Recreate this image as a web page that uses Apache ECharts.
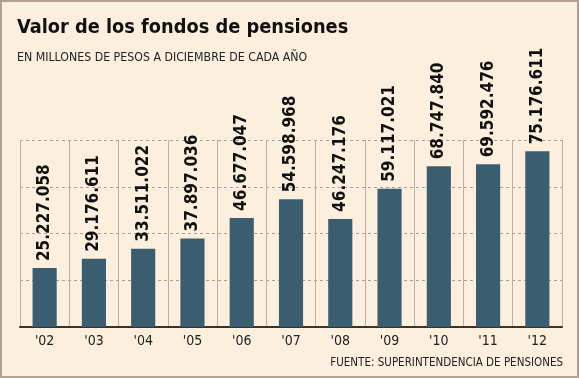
<!DOCTYPE html>
<html>
<head>
<meta charset="utf-8">
<script src="https://cdn.jsdelivr.net/npm/echarts@6/dist/echarts.min.js"></script>
<style>html,body{margin:0;padding:0;background:#FCEFDE;}#c{width:579px;height:378px;}</style>
</head>
<body>
<div id="c"></div>
<script>
const categories = ["'02","'03","'04","'05","'06","'07","'08","'09","'10","'11","'12"];
const values = [25227.058, 29176.611, 33511.022, 37897.036, 46677.047, 54598.968, 46247.176, 59117.021, 68747.840, 69592.476, 75176.611];
const labels = ["25.227.058","29.176.611","33.511.022","37.897.036","46.677.047","54.598.968","46.247.176","59.117.021","68.747.840","69.592.476","75.176.611"];
const titleText = "Valor de los fondos de pensiones";
const subtitleText = "EN MILLONES DE PESOS A DICIEMBRE DE CADA AÑO";
const sourceText = "FUENTE: SUPERINTENDENCIA DE PENSIONES";

const FONT = "'DejaVu Sans Condensed', sans-serif";
const chart = echarts.init(document.getElementById('c'), null, {renderer: 'canvas'});
chart.setOption({
  backgroundColor: '#FCEFDE',
  animation: false,
  title: [
    {text: titleText, left: 12, top: 13, textStyle: {fontFamily: FONT, fontWeight: 'bold', fontSize: 19.8, color: '#111'}},
    {text: subtitleText, left: 12, top: 47, textStyle: {fontFamily: FONT, fontWeight: 'normal', fontSize: 12.25, color: '#222'}},
    {text: sourceText, right: 11, top: 352, textStyle: {fontFamily: FONT, fontWeight: 'normal', fontSize: 11.5, color: '#222'}}
  ],
  graphic: [{
    type: 'rect', shape: {x: 1, y: 1, width: 577, height: 376},
    style: {fill: 'none', stroke: '#B4A090', lineWidth: 2}, silent: true, z: 100
  }],
  grid: {left: 20, right: 17, top: 140, bottom: 51},
  xAxis: {
    type: 'category', data: categories,
    axisLine: {show: true, lineStyle: {color: '#3A322C', width: 2}},
    axisTick: {show: false},
    splitLine: {show: true, lineStyle: {color: '#B8B0A8', width: 1}},
    axisLabel: {fontFamily: FONT, fontSize: 14, color: '#222', margin: 7}
  },
  yAxis: {
    type: 'value', min: 0, max: 80000, interval: 20000,
    axisLabel: {show: false}, axisLine: {show: false}, axisTick: {show: false},
    splitLine: {show: true, lineStyle: {color: '#A8A098', type: [3, 3], width: 1}}
  },
  series: [{
    type: 'bar', data: values, barWidth: '49%',
    itemStyle: {color: '#3A5E70'},
    label: {
      show: true, position: 'top', rotate: 90, align: 'left', verticalAlign: 'middle', distance: 7,
      fontFamily: FONT, fontWeight: 'bold', fontSize: 17, color: '#111',
      formatter: p => labels[p.dataIndex]
    }
  }]
});
</script>
</body>
</html>
